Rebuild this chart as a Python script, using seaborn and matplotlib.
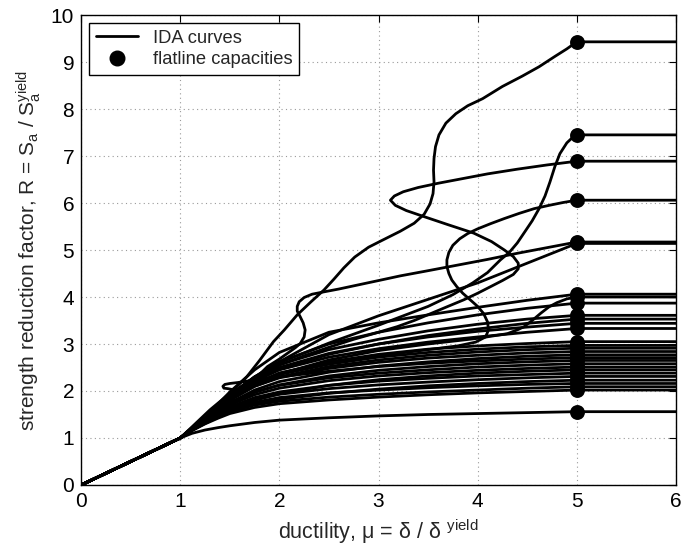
import matplotlib
matplotlib.use("Agg")
import matplotlib.pyplot as plt
import pandas as pd
import seaborn as sns
from matplotlib.lines import Line2D

# Ductility grid shared by the well-behaved IDA curves (from the yield point on)
MU_GRID = [1.0, 1.12, 1.25, 1.38, 1.5, 1.75, 2.0, 2.5, 3.0, 3.5, 4.0, 4.5, 5.0]

# R values on MU_GRID for the monotonic curves
R_MONO = [
    [1.0, 1.10, 1.17, 1.22, 1.26, 1.33, 1.38, 1.43, 1.47, 1.50, 1.52, 1.54, 1.56],
    [1.0, 1.16, 1.30, 1.42, 1.52, 1.65, 1.73, 1.81, 1.87, 1.92, 1.96, 1.99, 2.02],
    [1.0, 1.17, 1.32, 1.45, 1.56, 1.70, 1.78, 1.87, 1.93, 1.98, 2.02, 2.06, 2.09],
    [1.0, 1.17, 1.33, 1.48, 1.60, 1.76, 1.86, 1.96, 2.02, 2.07, 2.11, 2.14, 2.16],
    [1.0, 1.16, 1.31, 1.44, 1.55, 1.72, 1.82, 1.95, 2.04, 2.11, 2.16, 2.20, 2.23],
    [1.0, 1.18, 1.34, 1.50, 1.63, 1.82, 1.93, 2.05, 2.13, 2.19, 2.24, 2.28, 2.31],
    [1.0, 1.18, 1.35, 1.52, 1.66, 1.86, 1.98, 2.12, 2.21, 2.27, 2.32, 2.35, 2.38],
    [1.0, 1.17, 1.33, 1.48, 1.60, 1.80, 1.94, 2.12, 2.24, 2.32, 2.38, 2.42, 2.45],
    [1.0, 1.19, 1.36, 1.54, 1.70, 1.92, 2.06, 2.22, 2.32, 2.39, 2.44, 2.48, 2.51],
    [1.0, 1.19, 1.37, 1.57, 1.74, 1.98, 2.12, 2.28, 2.38, 2.45, 2.51, 2.55, 2.58],
    [1.0, 1.19, 1.36, 1.55, 1.72, 1.97, 2.13, 2.32, 2.44, 2.52, 2.58, 2.62, 2.65],
    [1.0, 1.19, 1.37, 1.57, 1.75, 2.02, 2.20, 2.40, 2.53, 2.62, 2.69, 2.74, 2.77],
    [1.0, 1.20, 1.39, 1.62, 1.82, 2.10, 2.28, 2.48, 2.61, 2.70, 2.76, 2.81, 2.84],
    [1.0, 1.20, 1.38, 1.60, 1.80, 2.10, 2.30, 2.52, 2.66, 2.76, 2.83, 2.88, 2.91],
    [1.0, 1.21, 1.40, 1.64, 1.86, 2.16, 2.35, 2.57, 2.72, 2.82, 2.89, 2.94, 2.97],
    [1.0, 1.21, 1.40, 1.63, 1.84, 2.16, 2.38, 2.62, 2.78, 2.89, 2.96, 3.01, 3.05],
    [1.0, 1.21, 1.40, 1.65, 1.88, 2.22, 2.45, 2.72, 2.90, 3.04, 3.15, 3.25, 3.33],
    [1.0, 1.21, 1.41, 1.67, 1.90, 2.26, 2.50, 2.80, 3.00, 3.15, 3.27, 3.36, 3.44],
    [1.0, 1.20, 1.39, 1.63, 1.85, 2.20, 2.46, 2.78, 3.00, 3.18, 3.32, 3.44, 3.53],
    [1.0, 1.22, 1.42, 1.69, 1.93, 2.30, 2.56, 2.88, 3.10, 3.28, 3.42, 3.53, 3.61],
    [1.0, 1.21, 1.40, 1.66, 1.90, 2.30, 2.62, 3.00, 3.25, 3.45, 3.62, 3.76, 3.87],
    [1.0, 1.22, 1.43, 1.72, 1.98, 2.45, 2.82, 3.25, 3.45, 3.62, 3.78, 3.93, 4.06],
    [1.0, 1.22, 1.42, 1.67, 1.90, 2.30, 2.62, 3.20, 3.60, 3.95, 4.30, 4.72, 5.14],
]

# Curves with softening/hardening reversals, given as (mu, R) traces
MU_LOOP = [1.0, 1.12, 1.25, 1.38, 1.47, 1.53, 1.55, 1.53, 1.48, 1.44, 1.43, 1.45, 1.50, 1.58,
           1.67, 1.80, 2.0, 2.5, 3.0, 3.5, 4.0, 4.5, 5.0]
R_LOOP = [1.0, 1.20, 1.42, 1.65, 1.82, 1.93, 1.99, 2.03, 2.05, 2.06, 2.10, 2.14, 2.16, 2.18,
          2.21, 2.25, 2.30, 2.42, 2.52, 2.59, 2.64, 2.68, 2.71]

MU_BUMP = [1.0, 1.12, 1.25, 1.5, 1.75, 2.0, 2.5, 3.0, 3.5, 4.0, 4.3, 4.4, 4.47, 4.55, 4.64,
           4.72, 4.8, 4.9, 5.0]
R_BUMP = [1.0, 1.20, 1.38, 1.80, 2.12, 2.36, 2.66, 2.86, 3.00, 3.12, 3.22, 3.30, 3.37, 3.50,
          3.66, 3.79, 3.88, 3.96, 4.00]

MU_S = [1.0, 1.12, 1.25, 1.5, 1.75, 1.88, 2.0, 2.08, 2.16, 2.21, 2.25, 2.26, 2.24, 2.21, 2.18,
        2.18, 2.20, 2.25, 2.33, 2.45, 2.6, 2.8, 3.0, 3.22, 3.5, 3.8, 4.1, 4.4, 4.7, 5.0]
R_S = [1.0, 1.20, 1.42, 1.85, 2.25, 2.52, 2.68, 2.80, 2.92, 3.01, 3.15, 3.30, 3.45, 3.58, 3.70,
       3.80, 3.90, 3.99, 4.06, 4.11, 4.17, 4.26, 4.35, 4.45, 4.56, 4.68, 4.80, 4.93, 5.05, 5.17]

MU_605 = [1.0, 1.12, 1.25, 1.5, 1.75, 2.0, 2.5, 3.0, 3.5, 3.8, 3.98, 4.08, 4.11, 4.10, 4.06,
          4.00, 3.92, 3.85, 3.79, 3.74, 3.71, 3.69, 3.69, 3.71, 3.75, 3.82, 3.90, 4.00, 4.13,
          4.27, 4.42, 4.57, 4.72, 4.86, 5.0]
R_605 = [1.0, 1.20, 1.40, 1.82, 2.15, 2.38, 2.60, 2.75, 2.88, 2.96, 3.04, 3.15, 3.30, 3.47, 3.65,
         3.80, 3.95, 4.08, 4.22, 4.36, 4.50, 4.65, 4.79, 4.95, 5.10, 5.24, 5.35, 5.45, 5.56,
         5.67, 5.78, 5.88, 5.95, 6.01, 6.06]

MU_692 = [1.0, 1.12, 1.25, 1.5, 1.75, 2.0, 2.25, 2.5, 2.75, 3.0, 3.19, 3.36, 3.53, 3.70, 3.86,
          4.00, 4.13, 4.25, 4.36, 4.41, 4.41, 4.36, 4.27, 4.14, 3.96, 3.70, 3.46, 3.28, 3.17,
          3.12, 3.16, 3.25, 3.40, 3.60, 3.80, 4.10, 4.40, 4.70, 5.0]
R_692 = [1.0, 1.20, 1.42, 1.88, 2.25, 2.55, 2.75, 2.93, 3.10, 3.25, 3.37, 3.50, 3.65, 3.80, 3.94,
         4.08, 4.22, 4.35, 4.48, 4.60, 4.72, 4.86, 5.00, 5.18, 5.36, 5.54, 5.71, 5.84, 5.95,
         6.06, 6.15, 6.24, 6.33, 6.42, 6.50, 6.62, 6.72, 6.81, 6.89]

MU_745 = [1.0, 1.12, 1.25, 1.5, 1.75, 2.0, 2.5, 3.0, 3.5, 3.75, 3.95, 4.10, 4.23, 4.32, 4.40,
          4.48, 4.55, 4.62, 4.68, 4.73, 4.78, 4.83, 4.90, 4.96, 5.0]
R_745 = [1.0, 1.20, 1.42, 1.88, 2.28, 2.60, 3.02, 3.40, 3.80, 4.05, 4.30, 4.52, 4.79, 4.95, 5.15,
         5.40, 5.62, 5.88, 6.15, 6.45, 6.78, 7.05, 7.28, 7.40, 7.45]

MU_943 = [1.0, 1.15, 1.3, 1.5, 1.67, 1.8, 1.94, 2.05, 2.18, 2.32, 2.45, 2.55, 2.65, 2.76, 2.9,
          3.05, 3.22, 3.36, 3.46, 3.52, 3.55, 3.56, 3.555, 3.56, 3.575, 3.61, 3.68, 3.78, 3.9,
          4.05, 4.25, 4.45, 4.62, 4.78, 4.9, 5.0]
R_943 = [1.0, 1.30, 1.60, 1.95, 2.30, 2.65, 3.05, 3.30, 3.62, 3.90, 4.15, 4.38, 4.62, 4.85, 5.06,
         5.22, 5.40, 5.57, 5.76, 5.98, 6.20, 6.45, 6.70, 6.95, 7.20, 7.45, 7.70, 7.90, 8.07,
         8.22, 8.48, 8.70, 8.90, 9.12, 9.28, 9.43]

MU_END = 5.0   # ductility at which the flatline is reached
MU_MAX = 6.0   # right edge of the flatline

traces = [(MU_GRID, r) for r in R_MONO] + [
    (MU_LOOP, R_LOOP), (MU_BUMP, R_BUMP), (MU_S, R_S), (MU_605, R_605),
    (MU_692, R_692), (MU_745, R_745), (MU_943, R_943),
]

rows = []
for cid, (mu, r) in enumerate(traces):
    pts = [(0.0, 0.0)] + list(zip(mu, r)) + [(MU_MAX, r[-1])]
    for step, (m, v) in enumerate(pts):
        rows.append({"curve": cid, "step": step, "mu": m, "R": v})
df = pd.DataFrame(rows)

capacities = [r[-1] for _, r in traces]
df_cap = pd.DataFrame({"mu": [MU_END] * len(capacities), "R": capacities})

sns.set_style("white")
plt.rcParams["font.family"] = ["Liberation Sans", "DejaVu Sans"]
plt.rcParams["mathtext.fontset"] = "custom"
plt.rcParams["mathtext.rm"] = "Liberation Sans"
plt.rcParams["mathtext.it"] = "Liberation Sans:italic"

fig = plt.figure(figsize=(6.82, 5.49), dpi=100)
ax = fig.add_axes([0.119, 0.1166, 0.872, 0.856])

sns.lineplot(data=df, x="mu", y="R", units="curve", estimator=None, sort=False,
             color="black", linewidth=2.0, ax=ax, legend=False, zorder=2)
for line in ax.get_lines():
    line.set_solid_joinstyle("round")
    line.set_solid_capstyle("round")
sns.scatterplot(data=df_cap, x="mu", y="R", color="black", s=115, edgecolor="black",
                linewidth=0, ax=ax, legend=False, zorder=3)

ax.set_xlim(0, 6)
ax.set_ylim(0, 10)
ax.set_xticks(range(0, 7))
ax.set_yticks(range(0, 11))
ax.grid(True, linestyle=(0, (1, 3)), color="#9a9a9a", linewidth=0.8)
ax.set_axisbelow(True)
for sp in ax.spines.values():
    sp.set_color("black")
    sp.set_linewidth(1.0)
ax.tick_params(direction="in", top=True, right=True, length=5, width=0.8,
               labelsize=15, colors="black", pad=5)

ax.set_xlabel(r"ductility, μ = δ / δ $^{\mathrm{yield}}$", fontsize=15.5, labelpad=5)
ax.set_ylabel(r"strength reduction factor, R = S$_{\mathrm{a}}$ / S$_{\mathrm{a}}^{\mathrm{yield}}$",
              fontsize=15, labelpad=6)

handles = [
    Line2D([0], [0], color="black", linewidth=2.0),
    Line2D([], [], marker="o", linestyle="none", color="black", markersize=10.5),
]
leg = ax.legend(handles, ["IDA curves", "flatline capacities"], loc="upper left",
                fontsize=13.2, frameon=True, fancybox=False, framealpha=1,
                edgecolor="black", borderaxespad=0.45, handlelength=2.3,
                borderpad=0.35, labelspacing=0.25, handletextpad=0.8)
leg.get_frame().set_linewidth(1.0)

fig.savefig("out.png", dpi=100)
